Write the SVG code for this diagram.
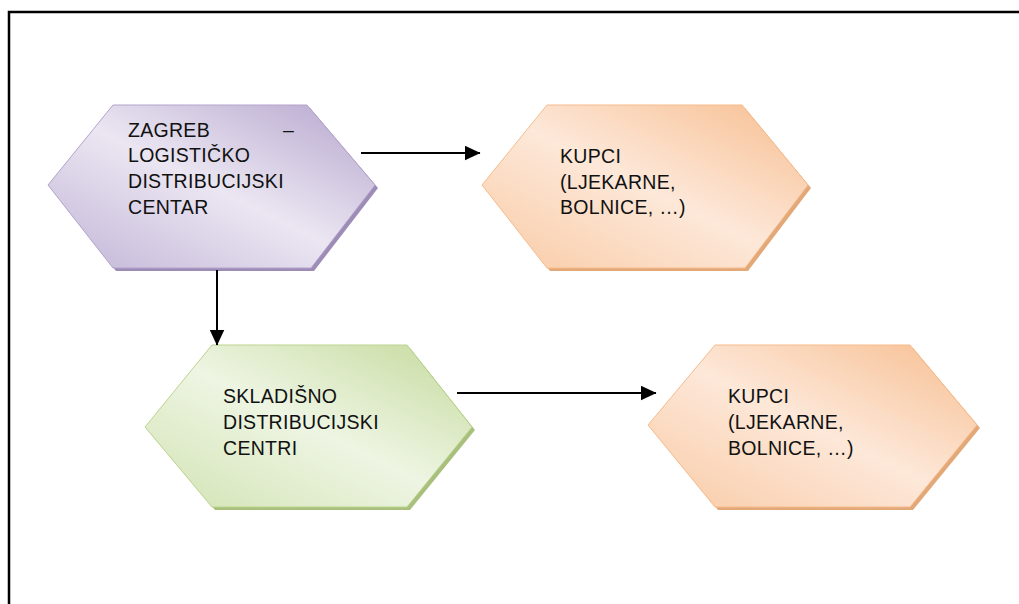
<svg xmlns="http://www.w3.org/2000/svg" width="1019" height="604" viewBox="0 0 1019 604">
<style>
.t{font-family:"Liberation Sans",Arial,sans-serif;font-size:19.5px;letter-spacing:0.3px;fill:#111;}
.c{stroke:#000;stroke-width:2;fill:none;}
</style>
<defs>
<linearGradient id="gp" x1="1" y1="0" x2="0" y2="1">
<stop offset="0" stop-color="#b5a5cd"/><stop offset="0.5" stop-color="#ebe6f2"/><stop offset="1" stop-color="#c2b5d7"/>
</linearGradient>
<linearGradient id="go" x1="1" y1="0" x2="0" y2="1">
<stop offset="0" stop-color="#f7be90"/><stop offset="0.5" stop-color="#fde8d9"/><stop offset="1" stop-color="#f9cba6"/>
</linearGradient>
<linearGradient id="gg" x1="1" y1="0" x2="0" y2="1">
<stop offset="0" stop-color="#c5da9c"/><stop offset="0.5" stop-color="#eef5e3"/><stop offset="1" stop-color="#d2e3b3"/>
</linearGradient>
<marker id="ah" markerWidth="16" markerHeight="15" refX="15.5" refY="7.5" orient="auto" markerUnits="userSpaceOnUse" viewBox="0 0 16 15">
<path d="M0,0 L16,7.5 L0,15 Z" fill="#000"/>
</marker>
</defs>
<rect x="9" y="12" width="1020" height="600" fill="#fff" stroke="#000" stroke-width="2.5"/>
<g id="n1">
<polygon points="116,108 310,108 378,188 314,271 116,271 51,188" fill="#9d8db6"/>
<polygon points="113,105 307,105 375,185 311,268 113,268 48,185" fill="url(#gp)" stroke="#b3a3cb" stroke-width="1"/>
<text class="t" x="128" y="137">ZAGREB</text><text class="t" x="283" y="137">–</text>
<text class="t" x="128" y="162">LOGISTIČKO</text>
<text class="t" x="128" y="188">DISTRIBUCIJSKI</text>
<text class="t" x="128" y="214">CENTAR</text>
</g>
<g id="n2">
<polygon points="550,108 745,108 811,188 748,271 550,271 485,188" fill="#e2a877"/>
<polygon points="547,105 742,105 808,185 745,268 547,268 482,185" fill="url(#go)" stroke="#f6bb8c" stroke-width="1"/>
<text class="t" x="560" y="163">KUPCI</text>
<text class="t" x="560" y="189">(LJEKARNE,</text>
<text class="t" x="560" y="214">BOLNICE, …)</text>
</g>
<g id="n3">
<polygon points="215,348 410,348 475,430 410,510 215,510 148,430" fill="#a9c07d"/>
<polygon points="212,345 407,345 472,427 407,507 212,507 145,427" fill="url(#gg)" stroke="#bcd38f" stroke-width="1"/>
<text class="t" x="223" y="403">SKLADIŠNO</text>
<text class="t" x="223" y="429">DISTRIBUCIJSKI</text>
<text class="t" x="223" y="455">CENTRI</text>
</g>
<g id="n4">
<polygon points="718,348 913,348 980,428 913,510 718,510 651,428" fill="#e2a877"/>
<polygon points="715,345 910,345 977,425 910,507 715,507 648,425" fill="url(#go)" stroke="#f6bb8c" stroke-width="1"/>
<text class="t" x="728" y="403">KUPCI</text>
<text class="t" x="728" y="429">(LJEKARNE,</text>
<text class="t" x="728" y="455">BOLNICE, …)</text>
</g>
<g id="connectors">
<line class="c" x1="361" y1="153" x2="480" y2="153" marker-end="url(#ah)"/>
<line class="c" x1="217" y1="270" x2="217" y2="345" marker-end="url(#ah)"/>
<line class="c" x1="457" y1="393" x2="656" y2="393" marker-end="url(#ah)"/>
</g>
</svg>
